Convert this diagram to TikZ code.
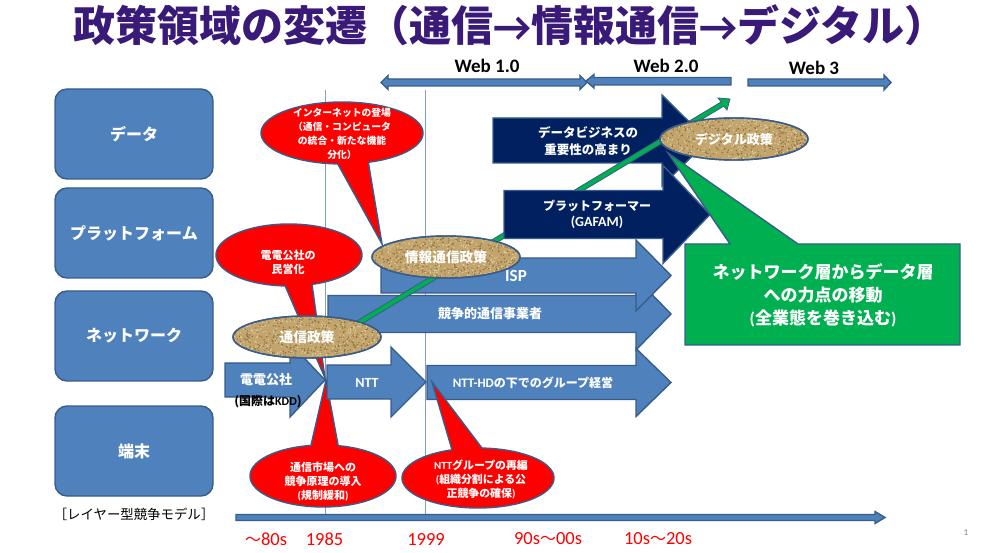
\documentclass[tikz,border=0pt]{standalone}
\usepackage{fontspec}
\setmainfont{Noto Sans CJK JP}
\newfontfamily\la{Carlito}
\newfontfamily\cj{Noto Sans CJK JP}
\usetikzlibrary{shapes.geometric,calc}
\definecolor{bluefill}{HTML}{4F81BD}
\definecolor{blueline}{HTML}{385D8A}
\definecolor{guideblue}{HTML}{7F9FC8}
\definecolor{navyfill}{HTML}{002060}
\definecolor{greenfill}{HTML}{00B050}
\definecolor{titlepurple}{HTML}{3A1A78}
\definecolor{sandbase}{HTML}{C2A46C}
\definecolor{sanddark}{HTML}{8C7240}
\definecolor{sandlight}{HTML}{E2D2A8}
\tikzset{
  shapeline/.style={draw=blueline,line width=1.4pt,line join=miter},
  bluearrow/.style={shapeline,fill=bluefill},
  navyarrow/.style={shapeline,fill=navyfill},
  redcall/.style={shapeline,fill=red},
  layerbox/.style={shapeline,fill=bluefill,rounded corners=12pt},
  layertext/.style={text=white,font=\fontsize{16}{20}\selectfont\bfseries,inner sep=0pt},
  wtext/.style={text=white,font=\pgfmathsetmacro\lsk{#1*1.35}\fontsize{#1}{\lsk}\selectfont\bfseries,align=center,inner sep=0pt},
  wtext/.default=11,
  calltext/.style={text=white,font=\fontsize{#1}{14}\selectfont\bfseries,align=center,inner sep=0pt},
  calltext/.default=11,
  webtext/.style={text=black,font=\la\fontsize{19}{22}\selectfont\bfseries,inner sep=0pt},
  yeartext/.style={text=red,font=\la\fontsize{18.5}{22}\selectfont,inner sep=0pt},
  sandell/.style={ellipse,draw=blueline,line width=1.4pt,fill=sandbase,minimum width=148pt,minimum height=42pt,inner sep=0pt},
  guide/.style={draw=guideblue,line width=0.8pt},
}
% block arrow: x start, head base x, tip x, y centre, shaft half, head half
\newcommand{\barrow}[7][bluearrow]{%
  \path[#1] ({#2},{#5-#6}) -- ({#3},{#5-#6}) -- ({#3},{#5-#7}) -- ({#4},{#5})
    -- ({#3},{#5+#7}) -- ({#3},{#5+#6}) -- ({#2},{#5+#6}) -- cycle;}
% ellipse callout: cx cy rx ry tipx tipy a1 a2 (ellipse traced the long way, a1 up to a2)
\newcommand{\callout}[8]{%
  \path[redcall] ({#5},{#6}) -- plot[domain=#7:#8,samples=120] ({#1+#3*cos(\x)},{#2+#4*sin(\x)}) -- cycle;}
% sand texture in a named ellipse
\newcommand{\sandify}[3]{%
  \begin{scope}
    \clip (#1,#2) ellipse [x radius=73.5,y radius=20.5];
    \foreach \i in {1,...,420}{
      \pgfmathsetmacro{\px}{#1-74+148*rnd}
      \pgfmathsetmacro{\py}{#2-21+42*rnd}
      \fill[sanddark] (\px,\py) circle [radius=0.8];
      \pgfmathsetmacro{\qx}{#1-74+148*rnd}
      \pgfmathsetmacro{\qy}{#2-21+42*rnd}
      \fill[sandlight] (\qx,\qy) circle [radius=0.7];
    }
  \end{scope}
  \draw[blueline,line width=1.4pt] (#3.center) ellipse [x radius=74,y radius=21];}
\begin{document}
\begin{tikzpicture}[x=1pt,y=-1pt]
\pgfmathsetseed{4711}
\useasboundingbox (0,0) rectangle (983,553);
\fill[white] (0,0) rectangle (983,553);

% title
\node[inner sep=0pt,text=titlepurple,font=\fontsize{42}{46}\selectfont\bfseries] (title) at (510,25) {政策領域の変遷（通信{\la →}情報通信{\la →}デジタル）};

% layer boxes
\path[layerbox] (55,89) rectangle (213,179);
\path[layerbox] (55,188) rectangle (213,278);
\path[layerbox] (55,291) rectangle (213,381);
\path[layerbox] (55,406) rectangle (213,496);
\node[layertext] (ldata) at (134,134) {データ};
\node[layertext] (lplat) at (134,233) {プラットフォーム};
\node[layertext] (lnet) at (134,336) {ネットワーク};
\node[layertext] (lterm) at (134,451) {端末};
\node[inner sep=0pt,font=\fontsize{13.4}{16}\selectfont] (lmodel) at (134,514) {［レイヤー型競争モデル］};

% guides
\coordinate (g1a) at (325.5,90); \coordinate (g1b) at (325.5,520);
\coordinate (g2a) at (425.5,90); \coordinate (g2b) at (425.5,520);
\draw[guide] (g1a) -- (g1b);
\draw[guide] (g2a) -- (g2b);

% web arrows
\path[bluearrow] (381,82.5) -- (388,75.5) -- (388,79) -- (580,79) -- (580,75.5) -- (587,82.5) -- (580,89.5) -- (580,86) -- (388,86) -- (388,89.5) -- cycle;
\path[bluearrow] (586,81) -- (594,74.5) -- (594,77.5) -- (731,77.5) -- (731,85) -- (594,85) -- (594,88) -- cycle;
\barrow{748}{884}{891}{82.5}{3.5}{7.5}
\node[webtext] (w1) at (487,66) {Web 1.0};
\node[webtext] (w2) at (666,66) {Web 2.0};
\node[webtext] (w3) at (814,68) {Web 3};

% timeline
\barrow{236}{875}{885}{517.5}{3}{6}

% network arrows
\barrow{427}{636}{671}{382.5}{17}{34}
\barrow{328}{636}{671}{314}{18.5}{36}
\barrow{381}{636}{671}{275.5}{17.5}{35.5}
\node[wtext=17] (isp) at (516,276) {\la ISP};
\node[wtext=13] (comp) at (490,314) {競争的通信事業者};
\node[wtext=12] (hd) at (533,383) {{\la\fontsize{13}{16}\selectfont NTT-HD}の下でのグループ経営};

% callouts behind the operator arrows
\callout{289}{255}{73}{31}{325}{378}{93}{431.6}
\callout{323}{476}{73}{31}{326}{380}{-78}{260.5}

\barrow{225}{290}{325}{380}{17}{37}
\barrow{327}{391}{426}{382}{17}{35}
\node[wtext=13] (ddk) at (266,380) {電電公社};
\node[inner sep=0pt,text=black,font=\fontsize{12}{14}\selectfont\bfseries] (kdd) at (268,402) {(国際は{\la KDD})};
\node[wtext=14] (ntt) at (367,383) {\la NTT};

% data arrow
\barrow[navyarrow]{493}{662}{708}{140.5}{22.5}{45.5}
\node[wtext=12.5] (dbiz) at (588,141) {データビジネスの\\重要性の高まり};

% rising policy arrow
\coordinate (pstart) at (355,325);
\coordinate (ptip) at (730,99);
\path[draw=blueline,line width=0.8pt,fill=greenfill,line join=miter]
  ($(pstart)+(-1.3,-2.1)$) -- (721.2,101.9) -- (718,98) -- (ptip) -- (727,110) -- (723.8,106.1) -- ($(pstart)+(1.3,2.1)$) -- cycle;

% platform arrow
\barrow[navyarrow]{504}{663}{710}{214.5}{24}{49}
\node[wtext=12] (plat) at (597,214) {プラットフォーマー\\{\la\fontsize{14}{16}\selectfont (GAFAM)}};

% other callouts
\callout{342}{133}{81}{31}{382}{244}{93}{431}
\callout{478}{478}{76}{30}{432}{382}{-87}{250}

% green callout
\path[shapeline,fill=greenfill] (685,244) -- (730,244) -- (668,153) -- (798,244) -- (960,244) -- (960,345) -- (685,345) -- cycle;
\node[wtext=17] (gbox) at (823,295) {ネットワーク層からデータ層\\への力点の移動\\{\la (}全業態を巻き込む{\la )}};

% policy ellipses
\node[sandell] (etsu) at (307,337) {};
\sandify{307}{337}{etsu}
\node[wtext=13.7] (etsut) at (etsu) {通信政策};
\node[sandell] (ejoho) at (446,257) {};
\sandify{446}{257}{ejoho}
\node[wtext=13.7] (ejohot) at (ejoho) {情報通信政策};
\node[sandell] (edigi) at (734,139) {};
\sandify{734}{139}{edigi}
\node[wtext=13] (edigit) at (edigi) {デジタル政策};

% callout texts
\node[calltext=9.8] (ctint) at (342,134) {インターネットの登場\\（通信・コンピュータ\\の統合・新たな機能\\分化）};
\node[calltext] (ctmin) at (288,262) {電電公社の\\民営化};
\node[calltext] (ctcomp) at (323,482) {通信市場への\\競争原理の導入\\{\la (}規制緩和{\la )}};
\node[calltext=10.9] (ctgrp) at (481,480) {{\la NTT}グループの再編\\{\la (}組織分割による公\\正競争の確保{\la )}};

% years
\node[yeartext] (y1) at (266,539) {{\cj\fontsize{16}{20}\selectfont ～}{\la 80s}};
\node[yeartext] (y2) at (324.5,539) {1985};
\node[yeartext] (y3) at (426,539) {1999};
\node[yeartext] (y4) at (548,539) {{\la 90s}{\cj\fontsize{16}{20}\selectfont ～}{\la 00s}};
\node[yeartext] (y5) at (658,539) {{\la 10s}{\cj\fontsize{16}{20}\selectfont ～}{\la 20s}};
\node[inner sep=0pt,text=gray,font=\la\fontsize{9}{11}\selectfont] (pg) at (966,533) {1};
\end{tikzpicture}
\end{document}
